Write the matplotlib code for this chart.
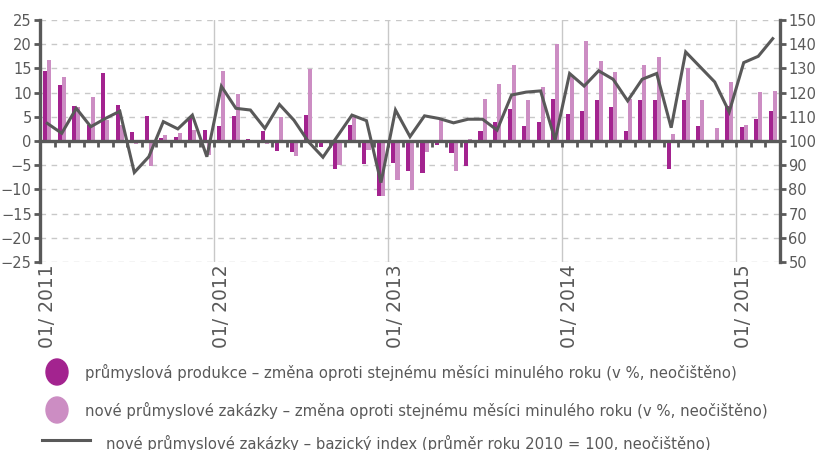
import matplotlib
matplotlib.use("Agg")
import matplotlib.pyplot as plt
from matplotlib.patches import Ellipse
from matplotlib.lines import Line2D
import numpy as np

plt.rcParams['font.family'] = ['DejaVu Sans']

months = [f"{m:02d}/{y}" for y in range(2011, 2016) for m in range(1, 13)][:51]

production = [14.5, 11.5, 7.3, 3.3, 14.0, 7.4, 1.8, 5.1, 0.7, 0.9, 4.7, 2.3,
              3.1, 5.1, 0.4, 2.1, -2.0, -2.2, 5.3, -1.3, -5.8, 3.4, -4.7, -11.3,
              -4.6, -6.3, -6.6, -0.8, -2.4, -5.1, 2.1, 3.9, 6.7, 3.1, 3.9, 8.6,
              5.6, 6.2, 8.4, 7.0, 2.0, 8.4, 8.4, -5.8, 8.4, 3.1, -0.5, 7.2,
              2.8, 4.5, 6.2]

orders = [16.7, 13.2, 7.0, 9.0, 4.3, 3.3, -0.7, -5.1, 1.2, 1.7, 2.3, -2.9,
          14.5, 9.8, 0.3, -0.7, 4.9, -3.2, 14.8, 0.3, -4.9, 4.9, -1.9, -11.3,
          -8.0, -10.2, -2.2, 4.3, -6.3, 0.4, 8.6, 11.7, 15.6, 8.4, 11.2, 20.1,
          13.6, 20.6, 16.5, 14.3, 8.6, 15.6, 17.3, 1.4, 15.1, 8.4, 2.6, 12.1,
          3.4, 10.1, 10.4]

orders_index = [107.3, 103.2, 113.5, 105.9, 109.3, 112.3, 87.0, 93.5, 108.0, 105.0, 110.7, 93.5,
                122.6, 113.5, 112.8, 105.2, 115.1, 108.6, 99.7, 93.3, 102.0, 110.7, 108.4, 82.8,
                112.8, 101.8, 110.4, 109.3, 107.5, 109.0, 109.0, 104.5, 119.0, 120.2, 120.7, 100.4,
                127.9, 122.7, 129.0, 125.5, 116.6, 125.5, 127.9, 105.5, 136.8, 130.6, 124.4, 112.0,
                132.4, 135.0, 142.3]

legend_labels = [
    "průmyslová produkce – změna oproti stejnému měsíci minulého roku (v %, neočištěno)",
    "nové průmyslové zakázky – změna oproti stejnému měsíci minulého roku (v %, neočištěno)",
    "nové průmyslové zakázky – bazický index (průměr roku 2010 = 100, neočištěno)",
]

DARK = '#A3238F'
LIGHT = '#CC8DC3'
GREY = '#595959'
GRID = '#C8C8C8'

W, H = 825, 450
fig = plt.figure(figsize=(W / 100, H / 100), dpi=100)
L, R, T, B = 40, 780, 20, 262
ax = fig.add_axes([L / W, 1 - B / H, (R - L) / W, (B - T) / H])

x = np.arange(len(months))
bw = 0.28
ax.bar(x - bw / 2, production, width=bw, color=DARK, zorder=2)
ax.bar(x + bw / 2, orders, width=bw, color=LIGHT, zorder=2)

ax.set_xlim(-0.5, len(months) - 0.5)
ax.set_ylim(-25, 25)
ax.set_yticks(np.arange(-25, 26, 5))
for v in np.arange(-25, 26, 5):
    if v != 0:
        ax.axhline(v, color=GRID, lw=1, ls=(0, (4, 4)), zorder=0)
jan_idx = [i for i, m in enumerate(months) if m.startswith("01/")]
for i in jan_idx[1:]:
    ax.axvline(i - 0.5, color=GRID, lw=1, zorder=0)

for s in ['top', 'right']:
    ax.spines[s].set_visible(False)
ax.spines['left'].set_color(GREY)
ax.spines['left'].set_linewidth(2.4)
ax.spines['bottom'].set_position(('data', 0))
ax.spines['bottom'].set_color(GREY)
ax.spines['bottom'].set_linewidth(2.4)
ax.spines['bottom'].set_zorder(3)
ax.set_xticks(np.arange(-0.5, len(months), 1.0))
ax.set_xticklabels([])
ax.tick_params(axis='x', direction='out', length=4, width=2, color=GREY)
ax.tick_params(axis='y', direction='out', length=4, width=2, color=GREY,
               labelcolor=GREY, labelsize=10.5, pad=2)

for i in jan_idx:
    ax.text(i, -0.01, months[i].replace("/", "/ "), transform=ax.get_xaxis_transform(),
            rotation=90, ha='center', va='top', fontsize=13.5, color=GREY)

ax2 = ax.twinx()
ax2.plot(x, orders_index, color=GREY, lw=2.2, zorder=5, solid_joinstyle='miter')
ax2.set_ylim(50, 150)
ax2.set_yticks(np.arange(50, 151, 10))
for s in ['top', 'left', 'bottom']:
    ax2.spines[s].set_visible(False)
ax2.spines['right'].set_color(GREY)
ax2.spines['right'].set_linewidth(2.4)
ax2.tick_params(axis='y', direction='out', length=4, width=2, color=GREY,
                labelcolor=GREY, labelsize=10.5, pad=2)

# legend
fs = 10.7
fig.add_artist(Ellipse((57 / W, 1 - 372 / H), 22 / W, 26 / H, color=DARK, transform=fig.transFigure))
fig.text(85 / W, 1 - 372 / H, legend_labels[0], fontsize=fs, color=GREY, va='center', ha='left')
fig.add_artist(Ellipse((57 / W, 1 - 410 / H), 22 / W, 26 / H, color=LIGHT, transform=fig.transFigure))
fig.text(85 / W, 1 - 410 / H, legend_labels[1], fontsize=fs, color=GREY, va='center', ha='left')
fig.add_artist(Line2D([42 / W, 90 / W], [1 - 440 / H, 1 - 440 / H], color=GREY, lw=2.2,
                      transform=fig.transFigure))
fig.text(106 / W, 1 - 443 / H, legend_labels[2], fontsize=fs, color=GREY, va='center', ha='left')

fig.savefig("out.png", dpi=100)
